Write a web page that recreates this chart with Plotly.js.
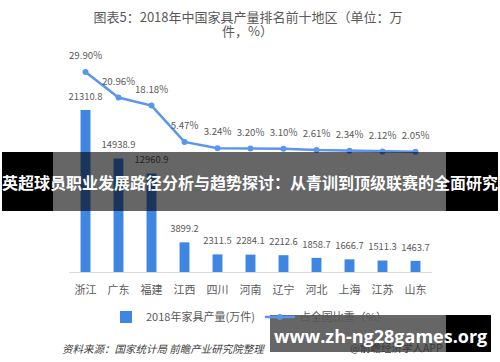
<!DOCTYPE html>
<html><head><meta charset="utf-8">
<script src="https://cdn.plot.ly/plotly-3.0.1.min.js"></script>
<style>html,body{margin:0;padding:0;background:#fff;}#chart{width:500px;height:362px;}</style>
</head><body><div id="chart"></div>
<script>
const categories = ['浙江','广东','福建','江西','四川','河南','辽宁','河北','上海','江苏','山东'];
const output2018 = [21310.8,14938.9,12960.9,3899.2,2311.5,2284.1,2212.6,1858.7,1666.7,1511.3,1463.7];
const nationalShare = [29.90,20.96,18.18,5.47,3.24,3.20,3.10,2.61,2.34,2.12,2.05];
const barName = '2018年家具产量(万件)';
const lineName = '占全国比重（%）';
const titleLine1 = '图表5：2018年中国家具产量排名前十地区（单位：万';
const titleLine2 = '件，%）';
const sourceText = '资料来源：国家统计局 前瞻产业研究院整理';
const appText = '@前瞻经济学人APP';
const bannerText = '英超球员职业发展路径分析与趋势探讨：从青训到顶级联赛的全面研究';
const urlText = 'www.zh-ng28games.org';

const W = 500, H = 362;
const M = {l: 69, r: 68, t: 60, b: 90};
const PW = W - M.l - M.r, PH = H - M.t - M.b;
const X = px => (px - M.l) / PW;
const Y = py => (H - M.b - py) / PH;
const FONT = '"Noto Sans CJK SC", "Noto Sans", sans-serif';
const TXT = '#595959';

const bars = {
  type: 'bar', x: categories, y: output2018, name: barName,
  marker: {color: '#3F86E3'}, hoverinfo: 'skip'
};
const barLabels = {
  type: 'scatter', mode: 'markers+text', x: categories, y: output2018, showlegend: false,
  marker: {size: 11, opacity: 0},
  text: output2018.map(v => v.toFixed(1)), textposition: 'top center',
  textfont: {size: 9.4, color: TXT, family: FONT},
  cliponaxis: false, hoverinfo: 'skip'
};
const line = {
  type: 'scatter', mode: 'lines+markers', x: categories, y: nationalShare, name: lineName,
  yaxis: 'y2',
  line: {color: '#5B95EE', width: 2.5},
  marker: {color: '#5B95EE', size: 6},
  cliponaxis: false, hoverinfo: 'skip'
};
const lineLabels = {
  type: 'scatter', mode: 'markers+text', x: categories, y: nationalShare, yaxis: 'y2', showlegend: false,
  marker: {size: 15, opacity: 0},
  text: nationalShare.map(v => v.toFixed(2) + '%'), textposition: 'top center',
  textfont: {size: 9.7, color: TXT, family: FONT},
  cliponaxis: false, hoverinfo: 'skip'
};

const shapes = [
  {type: 'rect', xref: 'paper', yref: 'paper', x0: X(2), x1: X(53), y0: Y(211), y1: Y(152), fillcolor: '#000', line: {width: 0}, layer: 'above'},
  {type: 'rect', xref: 'paper', yref: 'paper', x0: X(53), x1: X(446), y0: Y(211), y1: Y(152), fillcolor: 'rgba(0,0,0,0.6)', line: {width: 0}, layer: 'above'},
  {type: 'rect', xref: 'paper', yref: 'paper', x0: X(446), x1: X(498), y0: Y(211), y1: Y(152), fillcolor: '#000', line: {width: 0}, layer: 'above'},
  {type: 'rect', xref: 'paper', yref: 'paper', x0: X(270), x1: X(446), y0: Y(352), y1: Y(315), fillcolor: 'rgba(0,0,0,0.6)', line: {width: 0}, layer: 'above'},
  {type: 'rect', xref: 'paper', yref: 'paper', x0: X(446), x1: X(491), y0: Y(352), y1: Y(315), fillcolor: '#000', line: {width: 0}, layer: 'above'}
];

const annotations = [
  {text: titleLine2, xref: 'paper', yref: 'paper', x: X(247), y: Y(31), xanchor: 'center', yanchor: 'middle', showarrow: false, font: {size: 13, color: TXT, family: FONT}},
  {text: '<i>' + sourceText + '</i>', xref: 'paper', yref: 'paper', x: X(60), y: Y(348), xanchor: 'left', yanchor: 'middle', showarrow: false, font: {size: 10.5, color: '#404040', family: FONT}},
  {text: appText, xref: 'paper', yref: 'paper', x: X(445), y: Y(347), xanchor: 'right', yanchor: 'middle', showarrow: false, font: {size: 10.5, color: '#3a3a3a', family: FONT}},
  {text: '<b>' + bannerText + '</b>', xref: 'paper', yref: 'paper', x: X(250), y: Y(182), xanchor: 'center', yanchor: 'middle', showarrow: false, font: {size: 16, color: '#fff', family: FONT}},
  {text: '<b>' + urlText + '</b>', xref: 'paper', yref: 'paper', x: X(380), y: Y(336), xanchor: 'center', yanchor: 'middle', showarrow: false, font: {size: 18, color: '#fff', family: '"Open Sans", "Noto Sans", sans-serif'}}
];

const layout = {
  width: W, height: H, margin: M,
  paper_bgcolor: '#fff', plot_bgcolor: '#fff',
  font: {family: FONT, color: TXT},
  title: {text: titleLine1, x: 248 / W, xanchor: 'center', y: 1 - 17 / H, yanchor: 'middle', font: {size: 13, color: TXT, family: FONT}},
  showlegend: true,
  legend: {orientation: 'h', x: X(106), xanchor: 'left', y: Y(317), yanchor: 'middle', font: {size: 11, color: TXT, family: FONT}, bgcolor: 'rgba(0,0,0,0)'},
  bargap: 0.7,
  xaxis: {type: 'category', range: [-0.5, categories.length - 0.5], showgrid: false, zeroline: false, showline: true, linecolor: '#d9d9d9', linewidth: 1, ticks: '', ticklabelstandoff: 8, tickfont: {size: 11, color: TXT, family: FONT}, fixedrange: true},
  yaxis: {range: [0, 27888], visible: false, showgrid: false, zeroline: false, fixedrange: true},
  yaxis2: {range: [-40, 34.1], overlaying: 'y', side: 'right', visible: false, showgrid: false, zeroline: false, fixedrange: true},
  shapes: shapes,
  annotations: annotations
};

Plotly.newPlot('chart', [bars, line, barLabels, lineLabels], layout, {staticPlot: true, displayModeBar: false});
</script>
</body></html>
